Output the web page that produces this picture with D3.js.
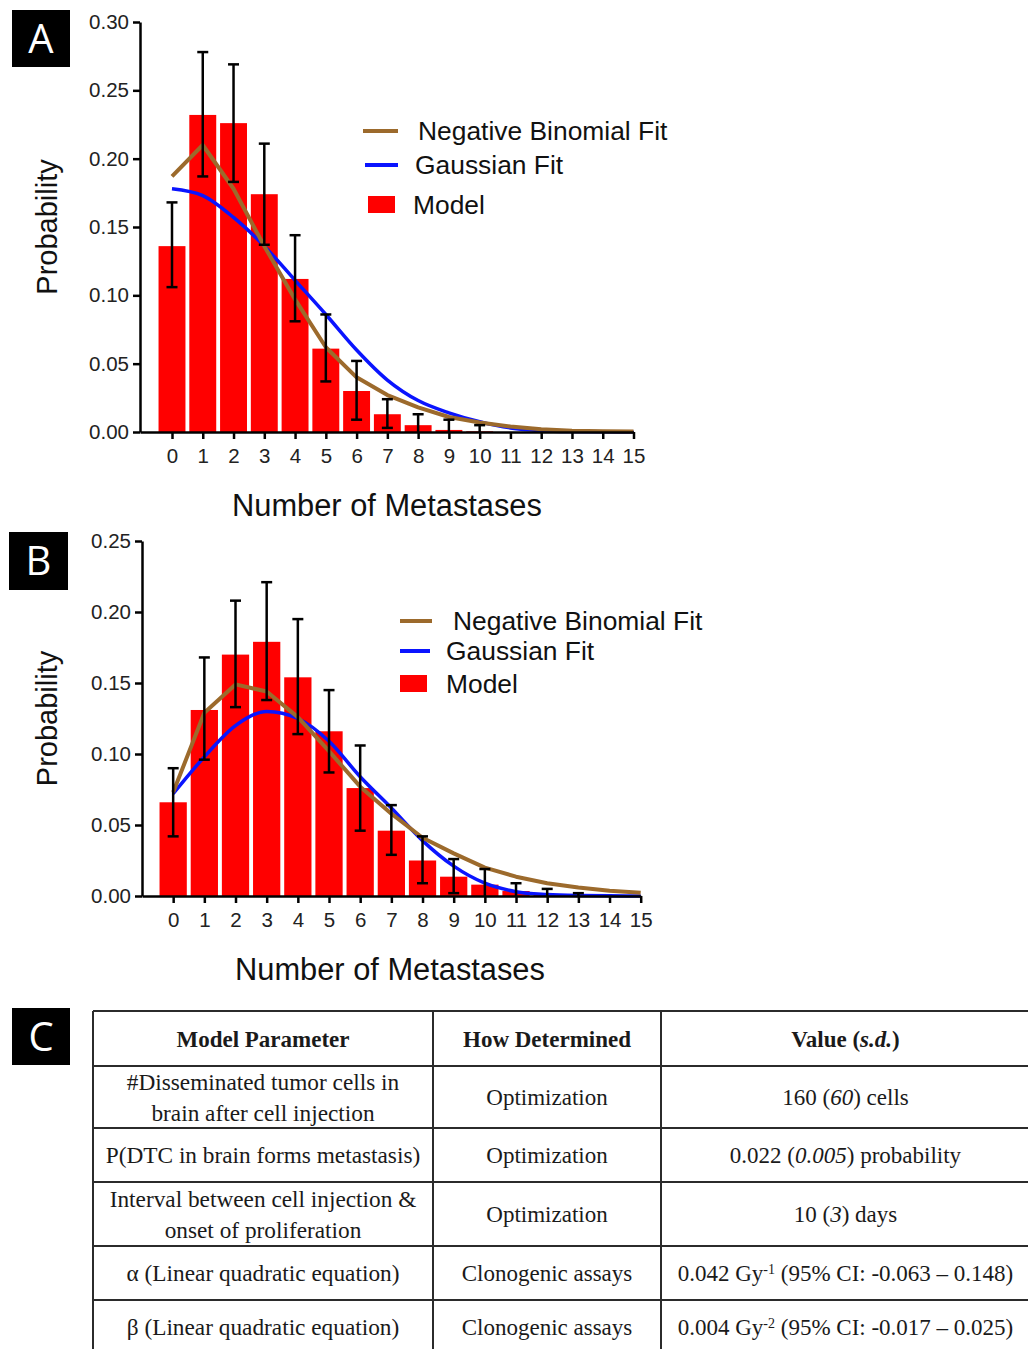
<!DOCTYPE html>
<html>
<head>
<meta charset="utf-8">
<script src="https://cdn.jsdelivr.net/npm/d3@7"></script>
<style>
  html, body { margin: 0; padding: 0; background: #fff; }
  svg { display: block; }
</style>
</head>
<body>
<svg id="chart" width="1028" height="1349"></svg>
<script>
// ---------- DATA ----------
const xTickLabels = ["0","1","2","3","4","5","6","7","8","9","10","11","12","13","14","15"];
const yTicksA = [0, 0.05, 0.10, 0.15, 0.20, 0.25, 0.30];
const yTicksB = [0, 0.05, 0.10, 0.15, 0.20, 0.25];
const legendLabels = ["Negative Binomial Fit", "Gaussian Fit", "Model"];

// Panel A
const modelA  = [0.136,0.232,0.226,0.174,0.112,0.061,0.030,0.013,0.005,0.0015,0.0005,0,0,0,0,0];
const errHiA  = [0.168,0.278,0.269,0.211,0.144,0.086,0.052,0.024,0.013,0.009,0.005,0,0,0,0,0];
const errLoA  = [0.106,0.187,0.183,0.137,0.081,0.037,0.009,0.003,0,0,0,0,0,0,0,0];
const nbA     = [0.187,0.210,0.178,0.136,0.097,0.062,0.040,0.027,0.018,0.011,0.007,0.004,0.002,0.001,0.0006,0.0003];
const gaussA  = [0.178,0.173,0.157,0.136,0.111,0.086,0.060,0.038,0.023,0.014,0.0075,0.003,0.001,0.0003,0.0001,0];

// Panel B
const modelB  = [0.066,0.131,0.170,0.179,0.154,0.116,0.076,0.046,0.025,0.0136,0.008,0.0035,0.001,0,0,0];
const errHiB  = [0.090,0.168,0.208,0.221,0.195,0.145,0.106,0.064,0.042,0.026,0.019,0.009,0.005,0.002,0,0];
const errLoB  = [0.042,0.096,0.133,0.138,0.114,0.087,0.046,0.029,0.009,0.002,0,0,0,0,0,0];
const nbB     = [0.073,0.129,0.149,0.144,0.126,0.102,0.077,0.058,0.041,0.030,0.020,0.0136,0.009,0.006,0.0037,0.0023];
const gaussB  = [0.072,0.098,0.120,0.130,0.125,0.109,0.084,0.062,0.039,0.021,0.009,0.003,0.001,0.0003,0.0001,0];

// Panel C (table)
const tableHeaders = [
  [{t:"Model Parameter"}],
  [{t:"How Determined"}],
  [{t:"Value ("},{t:"s.d.",i:true},{t:")"}]
];
const paramCol = [
  [[{t:"#Disseminated tumor cells  in"}],[{t:"brain after cell injection"}]],
  [[{t:"P(DTC in brain forms metastasis)"}]],
  [[{t:"Interval between cell injection &"}],[{t:"onset of proliferation"}]],
  [[{t:"α (Linear quadratic equation)"}]],
  [[{t:"β (Linear quadratic equation)"}]]
];
const methodCol = ["Optimization","Optimization","Optimization","Clonogenic assays","Clonogenic assays"];
const valueCol = [
  [{t:"160 ("},{t:"60",i:true},{t:") cells"}],
  [{t:"0.022 ("},{t:"0.005",i:true},{t:") probability"}],
  [{t:"10 ("},{t:"3",i:true},{t:") days"}],
  [{t:"0.042 Gy"},{t:"-1",sup:true},{t:" (95% CI: -0.063 – 0.148)"}],
  [{t:"0.004 Gy"},{t:"-2",sup:true},{t:" (95% CI: -0.017 – 0.025)"}]
];

// ---------- STYLE ----------
const RED = "#ff0000", BROWN = "#9c6a2c", BLUE = "#0a14ff";
const SANS = "'Liberation Sans', Arial, sans-serif";
const SERIF = "'Liberation Serif', 'Times New Roman', serif";

const svg = d3.select("#chart");

function panelLabel(x, y, w, h, letter) {
  svg.append("rect").attr("x", x).attr("y", y).attr("width", w).attr("height", h).attr("fill", "#000");
  svg.append("text").attr("x", x + w/2).attr("y", y + h/2 + 14)
    .attr("text-anchor", "middle").attr("fill", "#fff")
    .style("font-family", "'Open Sans', 'Noto Sans', sans-serif").style("font-size", "40px")
    .text(letter);
}

function drawPanel(cfg) {
  const g = svg.append("g");
  const x = d3.scaleLinear().domain([cfg.xMin, 15]).range([cfg.left, cfg.right]);
  const y = d3.scaleLinear().domain([0, cfg.yMax]).range([cfg.bottom, cfg.top]);
  const step = x(1) - x(0);
  const bw = step * 0.875;

  // bars
  g.selectAll("rect.bar").data(cfg.model).join("rect")
    .attr("class", "bar")
    .attr("x", (d, i) => x(i) - bw/2)
    .attr("y", d => y(d))
    .attr("width", bw)
    .attr("height", d => y(0) - y(d))
    .attr("fill", RED);

  // fit lines
  const line = d3.line().x((d, i) => x(i)).y(d => y(d)).curve(d3.curveMonotoneX);
  g.append("path").datum(cfg.gauss).attr("d", line)
    .attr("fill", "none").attr("stroke", BLUE).attr("stroke-width", 3.5).attr("stroke-linejoin", "round");
  g.append("path").datum(cfg.nb).attr("d", d3.line().x((d, i) => x(i)).y(d => y(d)))
    .attr("fill", "none").attr("stroke", BROWN).attr("stroke-width", 4).attr("stroke-linejoin", "round");

  // error bars
  const eb = cfg.errHi.map((hi, i) => ({i, hi, lo: cfg.errLo[i]})).filter(d => d.hi > 0.0015);
  const cap = 5.5;
  const ebG = g.append("g").attr("stroke", "#000").attr("stroke-width", 2.5);
  ebG.selectAll("line.v").data(eb).join("line").attr("class", "v")
    .attr("x1", d => x(d.i)).attr("x2", d => x(d.i)).attr("y1", d => y(d.hi)).attr("y2", d => y(d.lo));
  ebG.selectAll("line.t").data(eb).join("line").attr("class", "t")
    .attr("x1", d => x(d.i) - cap).attr("x2", d => x(d.i) + cap).attr("y1", d => y(d.hi)).attr("y2", d => y(d.hi));
  ebG.selectAll("line.b").data(eb.filter(d => d.lo > 0.0015)).join("line").attr("class", "b")
    .attr("x1", d => x(d.i) - cap).attr("x2", d => x(d.i) + cap).attr("y1", d => y(d.lo)).attr("y2", d => y(d.lo));

  // axes
  const yAxis = d3.axisLeft(y).tickValues(cfg.yTicks).tickFormat(d3.format(".2f")).tickSize(7).tickSizeOuter(0).tickPadding(4);
  const ya = g.append("g").attr("transform", `translate(${cfg.left},0)`).call(yAxis);
  const xAxis = d3.axisBottom(x).tickValues(d3.range(16)).tickFormat(i => xTickLabels[i]).tickSize(7).tickSizeOuter(0).tickPadding(9);
  const xa = g.append("g").attr("transform", `translate(0,${cfg.bottom})`).call(xAxis);
  [ya, xa].forEach(a => {
    a.select(".domain").attr("stroke", "#000").attr("stroke-width", 2.5);
    a.selectAll(".tick line").attr("stroke", "#000").attr("stroke-width", 2.5);
    a.selectAll(".tick text").attr("fill", "#222").style("font-family", SANS).style("font-size", "20.5px");
  });

  // axis titles
  g.append("text").attr("transform", `translate(${cfg.yTitleX},${(cfg.top + cfg.bottom)/2}) rotate(-90)`)
    .attr("text-anchor", "middle").attr("fill", "#111")
    .style("font-family", SANS).style("font-size", "29px").text("Probability");
  g.append("text").attr("x", cfg.xTitleX).attr("y", cfg.xTitleY)
    .attr("text-anchor", "middle").attr("fill", "#111")
    .style("font-family", SANS).style("font-size", "30.8px").text("Number of Metastases");

  // legend
  const L = cfg.legend;
  const lg = g.append("g").style("font-family", SANS).style("font-size", "26.4px").attr("fill", "#111");
  lg.append("line").attr("x1", L.nb.x1).attr("x2", L.nb.x2).attr("y1", L.nb.y).attr("y2", L.nb.y)
    .attr("stroke", BROWN).attr("stroke-width", 4);
  lg.append("text").attr("x", L.nb.tx).attr("y", L.nb.y + 9).text(legendLabels[0]);
  lg.append("line").attr("x1", L.ga.x1).attr("x2", L.ga.x2).attr("y1", L.ga.y).attr("y2", L.ga.y)
    .attr("stroke", BLUE).attr("stroke-width", 4);
  lg.append("text").attr("x", L.ga.tx).attr("y", L.ga.y + 9).text(legendLabels[1]);
  lg.append("rect").attr("x", L.mo.x).attr("y", L.mo.y).attr("width", L.mo.w).attr("height", L.mo.h).attr("fill", RED);
  lg.append("text").attr("x", L.mo.tx).attr("y", L.mo.y + L.mo.h/2 + 9).text(legendLabels[2]);
}

// ---------- PANEL A ----------
panelLabel(12, 10, 58, 57, "A");
drawPanel({
  model: modelA, errHi: errHiA, errLo: errLoA, nb: nbA, gauss: gaussA,
  xMin: -1.04, left: 140, right: 633.5, top: 22, bottom: 432, yMax: 0.30, yTicks: yTicksA,
  yTitleX: 57, xTitleX: 387, xTitleY: 516,
  legend: {
    nb: {x1: 363, x2: 398, y: 131, tx: 418},
    ga: {x1: 365, x2: 398, y: 165, tx: 415},
    mo: {x: 368, y: 196, w: 27, h: 17, tx: 413}
  }
});

// ---------- PANEL B ----------
panelLabel(9, 532, 59, 58, "B");
drawPanel({
  model: modelB, errHi: errHiB, errLo: errLoB, nb: nbB, gauss: gaussB,
  xMin: -1.0, left: 142, right: 640.7, top: 541, bottom: 896, yMax: 0.25, yTicks: yTicksB,
  yTitleX: 57, xTitleX: 390, xTitleY: 980,
  legend: {
    nb: {x1: 400, x2: 432, y: 621, tx: 453},
    ga: {x1: 400, x2: 430, y: 651, tx: 446},
    mo: {x: 400, y: 675, w: 27, h: 17, tx: 446}
  }
});

// ---------- PANEL C (table) ----------
panelLabel(12, 1008, 58, 57, "C");
const colX = [93, 433, 661, 1030];
const rowY = [1011, 1066, 1128, 1182, 1246, 1300, 1354];
const tg = svg.append("g");
const tl = tg.append("g").attr("stroke", "#2b2b2b").attr("stroke-width", 2);
rowY.forEach(yy => tl.append("line").attr("x1", colX[0]).attr("x2", colX[3]).attr("y1", yy).attr("y2", yy));
colX.forEach(xx => tl.append("line").attr("x1", xx).attr("x2", xx).attr("y1", rowY[0]).attr("y2", rowY[rowY.length-1]));

function richText(cx, baseline, segs, opts) {
  const t = tg.append("text").attr("x", cx).attr("y", baseline).attr("text-anchor", "middle")
    .attr("fill", "#1a1a1a").style("font-family", SERIF).style("font-size", opts.size + "px")
    .style("font-weight", opts.bold ? "bold" : "normal");
  segs.forEach(s => {
    const sp = t.append("tspan").text(s.t);
    if (s.i) sp.style("font-style", "italic");
    if (s.sup) sp.attr("baseline-shift", "super").style("font-size", Math.round(opts.size * 0.62) + "px");
  });
}
const colC = [(colX[0]+colX[1])/2, (colX[1]+colX[2])/2, (colX[2]+colX[3])/2];
// header
tableHeaders.forEach((h, j) => richText(colC[j], 1047, h, {size: 23, bold: true}));
// body
const rowMid = d3.range(5).map(r => (rowY[r+1] + rowY[r+2]) / 2);
paramCol.forEach((lines, r) => {
  const n = lines.length, lh = 31;
  lines.forEach((segs, k) => {
    const base = rowMid[r] + 8 + (k - (n - 1) / 2) * lh;
    richText(colC[0], base, segs, {size: 23.3});
  });
});
methodCol.forEach((m, r) => richText(colC[1], rowMid[r] + 8, [{t: m}], {size: 23}));
valueCol.forEach((segs, r) => richText(colC[2], rowMid[r] + 8, segs, {size: 23}));
</script>
</body>
</html>
